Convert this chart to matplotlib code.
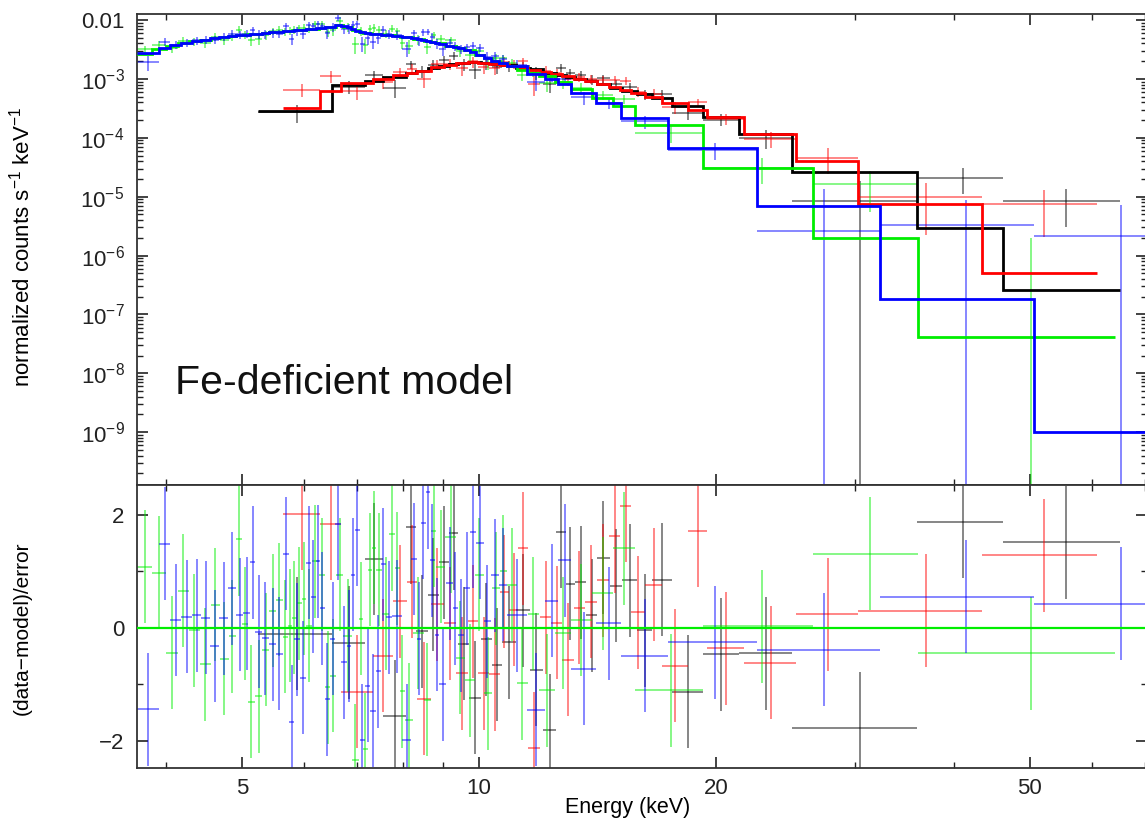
import numpy as np
import matplotlib
matplotlib.use("Agg")
import matplotlib.pyplot as plt
from matplotlib.ticker import FixedLocator, FuncFormatter, NullFormatter

plt.rcParams['font.family'] = ['Liberation Sans', 'DejaVu Sans']
plt.rcParams['mathtext.fontset'] = 'custom'
plt.rcParams['mathtext.rm'] = 'Liberation Sans'
plt.rcParams['mathtext.it'] = 'Liberation Sans:italic'
plt.rcParams['mathtext.bf'] = 'Liberation Sans:bold'

# ---------------- data ----------------
# bin edges in keV, model (normalized counts/s/keV), 1-sigma errors, residuals (data-model)/error

black_edges = [5.24, 6.50, 7.16, 7.55, 8.07, 8.31, 8.61, 8.89, 9.16, 9.40, 9.71, 10.05, 10.38,
               10.69, 11.14, 11.60, 12.05, 12.52, 12.89, 13.23, 13.67, 14.11, 14.65, 15.18,
               15.86, 16.57, 17.57, 19.23, 21.36, 24.94, 35.94, 46.21, 65.04]
black_model = [2.8e-4, 7.88e-4, 9.24e-4, 1.08e-3, 1.27e-3, 1.37e-3, 1.55e-3, 1.67e-3, 1.82e-3,
               1.89e-3, 1.93e-3, 1.87e-3, 1.82e-3, 1.74e-3, 1.55e-3, 1.49e-3, 1.27e-3, 1.17e-3,
               1.08e-3, 1.0e-3, 9.24e-4, 8.2e-4, 7.0e-4, 6.21e-4, 5.51e-4, 4.70e-4, 3.42e-4,
               2.25e-4, 1.16e-4, 2.63e-5, 2.94e-6, 2.61e-7]
black_err = [9.0e-5, 1.8e-4, 2.0e-4, 2.4e-4, 2.8e-4, 3.0e-4, 3.4e-4, 3.7e-4, 4.0e-4, 4.2e-4,
             4.2e-4, 3.7e-4, 3.6e-4, 3.5e-4, 3.1e-4, 3.0e-4, 2.5e-4, 2.3e-4, 2.2e-4, 2.0e-4,
             1.8e-4, 1.6e-4, 1.4e-4, 1.2e-4, 1.1e-4, 9.4e-5, 6.8e-5, 4.5e-5, 3.5e-5, 1.0e-5,
             9.5e-6, 5.3e-6]
black_resid = [-0.1, -0.26, 1.22, -1.56, 1.78, -0.06, 0.59, 1.16, 1.68, -0.28, -1.24, -0.2,
               -0.65, -0.25, 0.31, -0.74, -1.81, 1.7, 0.78, 0.81, 0.22, 1.24, 0.75, 0.84,
               -0.04, 0.85, -1.13, -0.47, -0.45, -1.78, 1.88, 1.52]

red_edges = [5.64, 6.28, 6.68, 7.33, 7.77, 8.10, 8.34, 8.69, 9.02, 9.35, 9.68, 9.97, 10.29,
             10.63, 10.91, 11.21, 11.54, 11.95, 12.34, 12.74, 13.19, 13.62, 14.11, 14.61,
             15.10, 15.59, 16.24, 17.06, 18.41, 19.46, 21.68, 25.23, 30.25, 43.47, 60.81]
red_model = [3.16e-4, 6.2e-4, 8.5e-4, 1.0e-3, 1.17e-3, 1.27e-3, 1.37e-3, 1.61e-3, 1.74e-3,
             1.89e-3, 1.93e-3, 1.89e-3, 1.82e-3, 1.74e-3, 1.67e-3, 1.55e-3, 1.43e-3, 1.32e-3,
             1.22e-3, 1.13e-3, 1.0e-3, 9.24e-4, 8.2e-4, 7.28e-4, 6.46e-4, 5.74e-4, 4.89e-4,
             3.86e-4, 3.0e-4, 2.25e-4, 1.16e-4, 4.04e-5, 7.52e-6, 5.07e-7]
red_err = [1.7e-4, 2.6e-4, 1.9e-4, 2.2e-4, 2.6e-4, 2.8e-4, 3.0e-4, 3.5e-4, 3.8e-4, 4.2e-4,
           4.2e-4, 3.8e-4, 3.6e-4, 3.5e-4, 3.3e-4, 3.1e-4, 2.9e-4, 2.6e-4, 2.4e-4, 2.3e-4,
           2.0e-4, 1.8e-4, 1.6e-4, 1.5e-4, 1.3e-4, 1.1e-4, 9.8e-5, 7.7e-5, 6.0e-5, 4.5e-5,
           3.1e-5, 2.1e-5, 7.5e-6, 5.5e-6]
red_resid = [2.02, 1.84, -1.13, -0.49, 0.47, 0.82, -1.25, 0.42, 0.08, -0.8, 0.12, -0.8,
             -0.82, 0.64, 0.32, 1.41, -2.13, 0.19, 0.09, -0.56, 0.36, 0.46, 0.84, 1.62,
             2.16, 0.28, 0.76, -0.67, 1.72, -0.36, -0.62, 0.24, 0.3, 1.29]

green_edges = [3.68, 3.845, 4.0, 4.15, 4.28, 4.42, 4.565, 4.69, 4.81, 4.915, 4.995, 5.085,
               5.195, 5.305, 5.415, 5.53, 5.63, 5.715, 5.79, 5.87, 5.955, 6.035, 6.135, 6.255,
               6.375, 6.47, 6.58, 6.725, 6.89, 7.03, 7.125, 7.225, 7.315, 7.40, 7.525, 7.69,
               7.825, 7.93, 8.045, 8.24, 8.505, 8.695, 8.82, 9.06, 9.35, 9.585, 9.87, 10.135,
               10.38, 10.615, 10.855, 11.165, 11.525, 11.9, 12.5, 13.07, 13.9, 14.8, 15.77,
               19.25, 26.5, 36.1, 64.1]
green_model = [2.6e-3, 3.16e-3, 3.56e-3, 4.01e-3, 4.34e-3, 4.52e-3, 4.89e-3, 5.09e-3, 5.30e-3,
               5.51e-3, 5.62e-3, 5.74e-3, 5.85e-3, 5.97e-3, 6.15e-3, 6.33e-3, 6.46e-3, 6.59e-3,
               6.65e-3, 6.78e-3, 6.86e-3, 7.00e-3, 7.14e-3, 7.42e-3, 7.57e-3, 7.73e-3, 8.20e-3,
               7.73e-3, 6.72e-3, 6.21e-3, 6.09e-3, 5.97e-3, 5.85e-3, 5.74e-3, 5.62e-3, 5.51e-3,
               5.40e-3, 5.19e-3, 5.09e-3, 4.70e-3, 4.43e-3, 4.26e-3, 4.01e-3, 3.56e-3, 3.29e-3,
               3.04e-3, 2.59e-3, 2.30e-3, 2.04e-3, 1.89e-3, 1.67e-3, 1.43e-3, 1.27e-3, 1.13e-3,
               8.88e-4, 6.72e-4, 4.70e-4, 3.42e-4, 1.65e-4, 3.07e-5, 1.99e-6, 4.15e-8]
green_err = [5.2e-4, 6.3e-4, 5.7e-4, 6.4e-4, 6.9e-4, 7.2e-4, 7.8e-4, 8.1e-4, 8.5e-4, 8.8e-4,
             9.0e-4, 9.2e-4, 9.4e-4, 9.6e-4, 9.8e-4, 1.01e-3, 1.03e-3, 1.05e-3, 1.06e-3,
             1.08e-3, 1.10e-3, 1.12e-3, 1.14e-3, 1.19e-3, 1.21e-3, 1.24e-3, 1.48e-3, 1.39e-3,
             1.21e-3, 1.12e-3, 1.10e-3, 1.07e-3, 1.05e-3, 1.03e-3, 1.01e-3, 9.9e-4, 9.7e-4,
             9.3e-4, 9.2e-4, 8.5e-4, 8.0e-4, 7.7e-4, 7.2e-4, 6.4e-4, 5.9e-4, 5.5e-4, 4.7e-4,
             4.1e-4, 3.7e-4, 3.4e-4, 3.0e-4, 2.6e-4, 2.3e-4, 2.5e-4, 2.0e-4, 1.5e-4, 1.0e-4,
             7.5e-5, 4.0e-5, 1.5e-5, 1.1e-5, 3.6e-6]
green_resid = [1.08, 0.98, -0.44, 0.66, -0.04, -0.64, 0.41, -0.55, -0.15, 1.57, 0.07, -1.31,
               -1.21, -0.39, 0.3, 0.5, -0.16, 0.04, 0.18, 0.44, 0.52, 0.04, 1.18, 0.94, -1.05,
               -0.85, 0.94, -0.14, -2.34, 0.16, -2.15, 1.03, 1.42, 1.03, 0.25, 1.66, 1.06,
               -1.12, -1.63, -0.09, -1.27, 1.72, 1.08, 1.61, -0.53, -0.93, 0.94, -1.16, 0.7,
               1.0, 0.76, -0.98, 0.25, -1.1, -0.09, 0.14, 0.61, 1.41, -1.1, 0.03, 1.31, -0.45]

blue_edges = [3.68, 3.93, 4.05, 4.19, 4.32, 4.44, 4.56, 4.68, 4.80, 4.92, 5.02, 5.12, 5.20,
              5.30, 5.41, 5.53, 5.63, 5.73, 5.83, 5.93, 6.03, 6.12, 6.20, 6.28, 6.37, 6.47,
              6.57, 6.68, 6.80, 6.87, 6.95, 7.06, 7.16, 7.28, 7.40, 7.50, 7.61, 7.75, 7.99,
              8.20, 8.33, 8.45, 8.55, 8.67, 8.78, 8.90, 9.09, 9.26, 9.40, 9.58, 9.75, 9.92,
              10.13, 10.36, 10.61, 10.84, 11.49, 12.12, 12.6, 13.07, 14.07, 15.15, 17.35,
              22.55, 32.26, 50.6, 80.0]
blue_model = [2.70e-3, 3.29e-3, 3.71e-3, 4.01e-3, 4.34e-3, 4.52e-3, 4.89e-3, 5.09e-3, 5.30e-3,
              5.51e-3, 5.62e-3, 5.74e-3, 5.85e-3, 5.97e-3, 6.21e-3, 6.33e-3, 6.46e-3, 6.59e-3,
              6.72e-3, 6.86e-3, 7.00e-3, 7.14e-3, 7.28e-3, 7.42e-3, 7.57e-3, 7.73e-3, 8.20e-3,
              8.0e-3, 7.57e-3, 7.00e-3, 6.46e-3, 6.21e-3, 5.97e-3, 5.85e-3, 5.74e-3, 5.62e-3,
              5.51e-3, 5.40e-3, 5.09e-3, 4.89e-3, 4.70e-3, 4.61e-3, 4.43e-3, 4.26e-3, 4.09e-3,
              3.86e-3, 3.56e-3, 3.42e-3, 3.29e-3, 3.04e-3, 2.81e-3, 2.59e-3, 2.30e-3, 2.04e-3,
              1.89e-3, 1.67e-3, 1.22e-3, 1.0e-3, 8.20e-4, 5.74e-4, 3.86e-4, 2.13e-4, 6.71e-5,
              6.95e-6, 1.83e-7, 1.01e-9]
blue_err = [5.4e-4, 6.6e-4, 5.9e-4, 6.4e-4, 6.9e-4, 7.2e-4, 7.8e-4, 8.1e-4, 8.5e-4, 8.8e-4,
            9.0e-4, 9.2e-4, 9.4e-4, 9.6e-4, 9.9e-4, 1.01e-3, 1.03e-3, 1.05e-3, 1.08e-3,
            1.10e-3, 1.12e-3, 1.14e-3, 1.16e-3, 1.19e-3, 1.21e-3, 1.24e-3, 1.48e-3, 1.44e-3,
            1.36e-3, 1.26e-3, 1.16e-3, 1.12e-3, 1.07e-3, 1.05e-3, 1.03e-3, 1.01e-3, 9.9e-4,
            9.7e-4, 9.2e-4, 8.8e-4, 8.5e-4, 8.3e-4, 8.0e-4, 7.7e-4, 7.4e-4, 6.9e-4, 6.4e-4,
            6.2e-4, 5.9e-4, 5.5e-4, 5.1e-4, 5.2e-4, 4.6e-4, 4.1e-4, 3.8e-4, 3.3e-4, 2.4e-4,
            2.0e-4, 1.6e-4, 1.26e-4, 8.5e-5, 4.7e-5, 2.0e-5, 1.1e-5, 5.6e-6, 5.0e-6]
blue_resid = [-1.44, 1.49, 0.14, 0.2, 0.22, 0.18, -0.32, 0.17, 0.7, 0.23, 0.26, 1.16, -0.07,
              -0.18, -0.29, -0.46, 1.31, -1.66, -0.2, -0.88, 1.15, 0.55, 1.18, 0.35, -1.26,
              -0.19, 1.84, -0.61, -0.32, 0.94, 1.74, -1.99, -1.02, -1.47, -0.77, 1.13, 0.19,
              0.21, -1.99, 1.22, -0.19, 1.86, 2.4, 1.2, -0.12, -1.0, 0.79, 0.35, -0.13, 0.7,
              1.7, 1.51, 0.12, 0.93, 0.76, 0.22, -1.45, 0.48, 1.2, -0.72, 0.08, -0.49, -0.25,
              -0.39, 0.55, 0.43]

x_major = [5, 10, 20, 50]
x_minor = [4, 6, 7, 8, 9, 30, 40, 60, 70]
annotation = "Fe-deficient model"

# ---------------- figure ----------------
W, H = 1145, 825
fig = plt.figure(figsize=(W / 100, H / 100), dpi=100)
left_px, right_px = 137, 1147
ax1 = fig.add_axes([left_px / W, 1 - 485 / H, (right_px - left_px) / W, (485 - 14) / H])
ax2 = fig.add_axes([left_px / W, 1 - 768 / H, (right_px - left_px) / W, (768 - 485) / H], sharex=ax1)

ax1.set_xscale('log')
ax1.set_yscale('log')
ax1.set_xlim(3.68, 70.4)
ax1.set_ylim(1.27e-10, 0.01265)
ax2.set_ylim(-2.48, 2.53)

series = [
    (black_edges, black_model, black_err, black_resid, '#000000'),
    (red_edges, red_model, red_err, red_resid, '#ff0000'),
    (green_edges, green_model, green_err, green_resid, '#00ee00'),
    (blue_edges, blue_model, blue_err, blue_resid, '#0000ff'),
]

for i, (edges, model, err, resid, col) in enumerate(series):
    edges = np.asarray(edges, float)
    model = np.asarray(model, float)
    err = np.asarray(err, float)
    resid = np.asarray(resid, float)
    lo, hi = edges[:-1], edges[1:]
    cen = 0.5 * (lo + hi)
    xerr = 0.5 * (hi - lo)
    data = model + resid * err
    ax1.errorbar(cen, data, xerr=xerr, yerr=err, fmt='none', ecolor=col,
                 elinewidth=1.1, alpha=0.6, zorder=2 + i * 0.1)
    ax1.stairs(model, edges, baseline=None, color=col, lw=2.0, zorder=3 + i * 0.1)
    ax2.errorbar(cen, resid, xerr=xerr, yerr=np.ones_like(resid), fmt='none', ecolor=col,
                 elinewidth=1.1, alpha=0.6, zorder=2 + i * 0.1)

ax2.axhline(0, color='#00ee00', lw=1.6, zorder=5)

ax1.text((175 - left_px) / (right_px - left_px), (485 - 383) / 471, annotation,
         transform=ax1.transAxes, fontsize=29.5, va='center', ha='left', color='#111111')

# ---------------- ticks ----------------
for ax in (ax1, ax2):
    ax.xaxis.set_major_locator(FixedLocator(x_major))
    ax.xaxis.set_minor_locator(FixedLocator(x_minor))
    ax.tick_params(which='both', direction='in', top=True, right=True, colors='#222222',
                   labelsize=16)
    ax.tick_params(which='major', length=8, width=1.2)
    ax.tick_params(which='minor', length=4, width=1.0)
    for s in ax.spines.values():
        s.set_linewidth(1.3)
        s.set_color('#333333')

ax1.tick_params(axis='x', which='both', labelbottom=False)
ax2.xaxis.set_major_formatter(FuncFormatter(lambda v, p: f"{v:g}"))
ax2.xaxis.set_minor_formatter(NullFormatter())
ax2.tick_params(axis='x', pad=7)

ydec = [1e-10, 1e-9, 1e-8, 1e-7, 1e-6, 1e-5, 1e-4, 1e-3, 1e-2]
ax1.yaxis.set_major_locator(FixedLocator(ydec))
ax1.yaxis.set_minor_locator(FixedLocator([m * d for d in ydec for m in range(2, 10)]))


def yfmt(v, p):
    e = int(round(np.log10(v)))
    if e == -2:
        return "0.01"
    return r"$10^{%d}$" % e


ax1.yaxis.set_major_formatter(FuncFormatter(yfmt))
ax1.yaxis.set_minor_formatter(NullFormatter())
ax1.tick_params(axis='y', pad=9)

ax2.yaxis.set_major_locator(FixedLocator([-2, 0, 2]))
ax2.yaxis.set_minor_locator(FixedLocator([-1, 1]))
ax2.yaxis.set_major_formatter(FuncFormatter(lambda v, p: "\u22122" if v < 0 else f"{v:g}"))
ax2.tick_params(axis='y', pad=9)

fig.text(22 / W, 1 - 247 / H, r"normalized counts s$^{-1}$ keV$^{-1}$", rotation=90,
         ha='center', va='center', fontsize=16)
fig.text(22 / W, 1 - 628 / H, "(data\u2212model)/error", rotation=90,
         ha='center', va='center', fontsize=15)
fig.text(628 / W, 1 - 808 / H, "Energy (keV)", ha='center', va='center', fontsize=15.5)

fig.savefig("out.png", dpi=100)
